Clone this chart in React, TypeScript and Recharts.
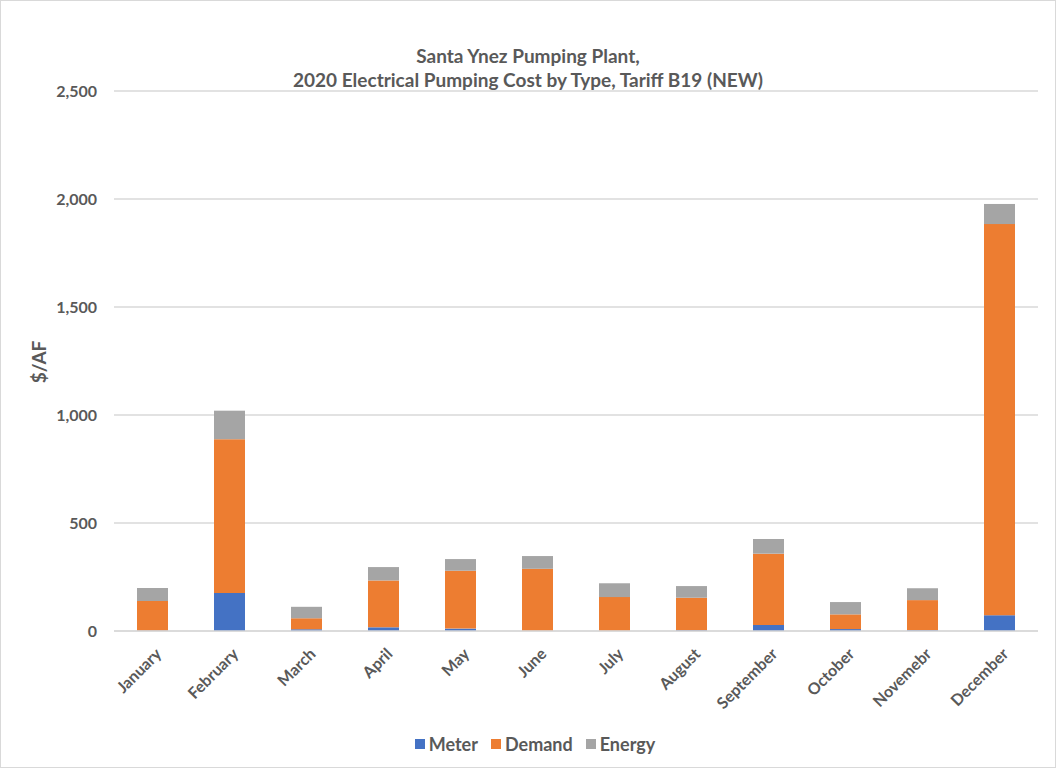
import React from "react";
import { BarChart, Bar, XAxis, YAxis, CartesianGrid, Legend } from "recharts";

const months = [
	"January",
	"February",
	"March",
	"April",
	"May",
	"June",
	"July",
	"August",
	"September",
	"October",
	"Novemebr",
	"December",
];
const meter = [2, 176, 8, 17, 11, 1, 1, 4, 28, 9, 4, 73];
const demand = [137, 712, 51, 217, 268, 287, 156, 150, 330, 68, 139, 1811];
const energy = [60, 132, 53, 62, 54, 59, 64, 54, 68, 57, 55, 93];
const yTicks = [0, 500, 1000, 1500, 2000, 2500];

const data = months.map((name, i) => ({
	name,
	Meter: meter[i],
	Demand: demand[i],
	Energy: energy[i],
}));

const font = "Lato, 'Open Sans', sans-serif";
const grey = "#595959";

const legendItems = [
	{ label: "Meter", color: "#4472C4" },
	{ label: "Demand", color: "#ED7D31" },
	{ label: "Energy", color: "#A5A5A5" },
];

const LegendContent = () => (
	<div
		style={{
			display: "flex",
			justifyContent: "center",
			fontFamily: font,
			fontSize: 18,
			fontWeight: 700,
			color: grey,
			paddingLeft: 45,
		}}
	>
		{legendItems.map((it) => (
			<span
				key={it.label}
				style={{ display: "inline-flex", alignItems: "center", marginRight: 13 }}
			>
				<span
					style={{
						width: 10,
						height: 10,
						background: it.color,
						display: "inline-block",
						marginRight: 4,
					}}
				/>
				{it.label}
			</span>
		))}
	</div>
);

const App = () => {
	return (
		<div
			style={{
				position: "absolute",
				left: 0,
				top: 0,
				width: 1056,
				height: 770,
				background: "#fff",
			}}
		>
			<div
				style={{
					position: "absolute",
					left: 0,
					top: 0,
					width: 1054,
					height: 766,
					border: "1px solid #d9d9d9",
					pointerEvents: "none",
				}}
			/>
			<div
				style={{
					position: "absolute",
					left: 0,
					top: 44,
					width: 1056,
					textAlign: "center",
					fontFamily: font,
					fontSize: 19,
					fontWeight: 700,
					color: grey,
					lineHeight: "24px",
				}}
			>
				Santa Ynez Pumping Plant,
				<br />
				2020 Electrical Pumping Cost by Type, Tariff B19 (NEW)
			</div>
			<BarChart
				width={1056}
				height={770}
				data={data}
				barSize={31}
				margin={{ top: 91, right: 18, bottom: 89, left: 0 }}
			>
				<CartesianGrid vertical={false} stroke="#d9d9d9" strokeWidth={1.3} />
				<XAxis
					dataKey="name"
					interval={0}
					angle={-45}
					textAnchor="end"
					tickLine={false}
					axisLine={{ stroke: "#d9d9d9", strokeWidth: 1.3 }}
					tickSize={0}
					tickMargin={16}
					dx={2}
					tick={{ fill: grey, fontSize: 16, fontWeight: 700, fontFamily: font }}
				/>
				<YAxis
					width={114}
					domain={[0, 2500]}
					ticks={yTicks}
					tickFormatter={(v: number) => v.toLocaleString("en-US")}
					axisLine={false}
					tickLine={false}
					tickSize={0}
					tickMargin={17}
					tick={{ fill: grey, fontSize: 16, fontWeight: 700, fontFamily: font }}
					label={{
						content: () => (
							<text
								x={38}
								y={362}
								transform="rotate(-90 38 362)"
								textAnchor="middle"
								dominantBaseline="central"
								fill={grey}
								fontSize={19}
								fontWeight={700}
								fontFamily={font}
							>
								$/AF
							</text>
						),
					}}
				/>
				<Legend
					content={<LegendContent />}
					wrapperStyle={{ top: 733, bottom: "auto", height: 20 }}
				/>
				<Bar dataKey="Meter" stackId="a" fill="#4472C4" isAnimationActive={false} />
				<Bar dataKey="Demand" stackId="a" fill="#ED7D31" isAnimationActive={false} />
				<Bar dataKey="Energy" stackId="a" fill="#A5A5A5" isAnimationActive={false} />
			</BarChart>
		</div>
	);
};

export default App;
